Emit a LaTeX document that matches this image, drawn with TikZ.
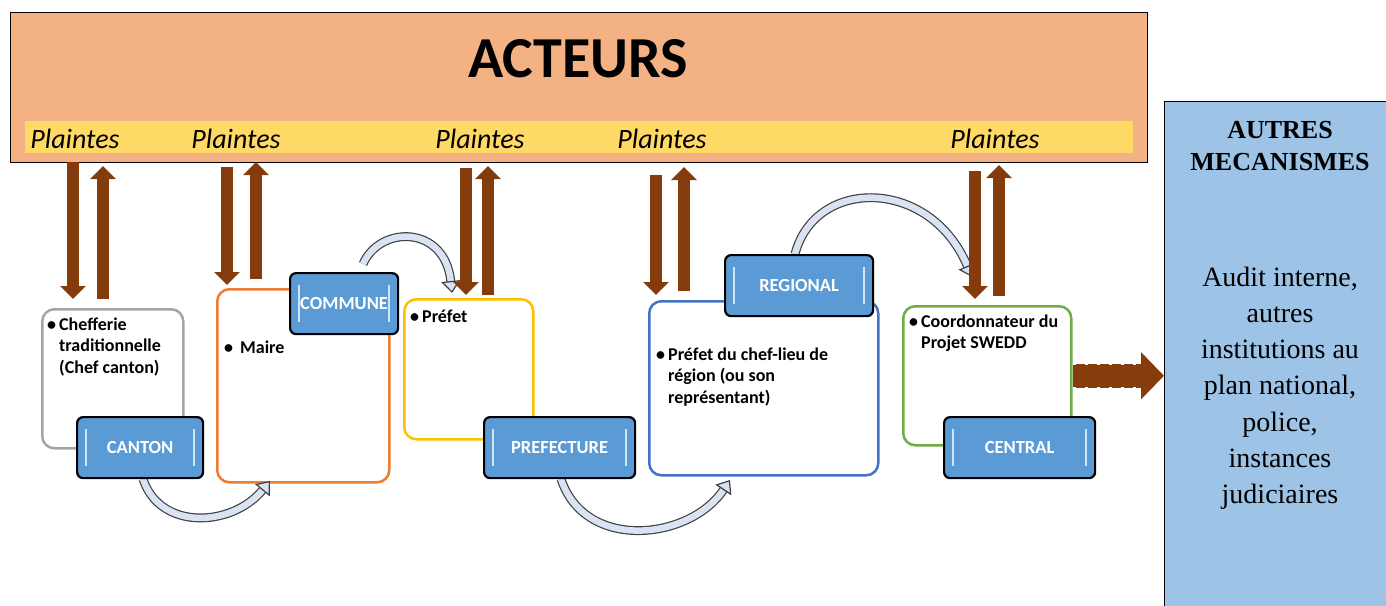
\documentclass[tikz,border=0pt]{standalone}
\usepackage{fontspec}
\setmainfont{Carlito}
\newfontfamily\tnr{Liberation Serif}
\usetikzlibrary{arrows.meta}
\definecolor{peach}{HTML}{F4B183}
\definecolor{bandy}{HTML}{FFD966}
\definecolor{autresblue}{HTML}{9DC3E6}
\definecolor{brn}{HTML}{843C0C}
\definecolor{tabblue}{HTML}{5B9BD5}
\definecolor{tabhl}{HTML}{CFE6F8}
\definecolor{arcfill}{HTML}{DAE3F3}
\definecolor{arcline}{HTML}{404040}
\definecolor{cgray}{HTML}{A5A5A5}
\definecolor{corange}{HTML}{ED7D31}
\definecolor{cyellow}{HTML}{FFC000}
\definecolor{cblue}{HTML}{4472C4}
\definecolor{cgreen}{HTML}{70AD47}
\newcommand\bul[1]{\leavevmode\llap{•\hspace{#1}}}
\begin{document}
\begin{tikzpicture}[x=1pt,y=-1pt,
  cbox/.style={rounded corners=12pt, line width=2.5pt, fill=white, inner sep=0pt, anchor=north west},
  tabbox/.style={rounded corners=6pt, line width=2.2pt, draw=black, fill=tabblue, inner sep=0pt, anchor=north west,
     text=white, font=\bfseries\fontsize{18.5}{20}\selectfont, minimum height=61pt,
     path picture={
       \draw[tabhl, line width=1.6pt] ([xshift=9pt,yshift=-12pt]path picture bounding box.north west) -- ([xshift=9pt,yshift=12pt]path picture bounding box.south west);
       \draw[tabhl, line width=1.6pt] ([xshift=-9pt,yshift=-12pt]path picture bounding box.north east) -- ([xshift=-9pt,yshift=12pt]path picture bounding box.south east);
     }},
  ctext/.style={inner sep=0pt, anchor=base west, font=\bfseries\fontsize{18}{21.5}\selectfont},
  plainte/.style={inner sep=0pt, anchor=base, font=\itshape\fontsize{28}{30}\selectfont},
  brarrow/.style={draw=brn, line width=12pt, -{Triangle[length=13pt,width=25pt]}},
  curv/.style={draw=arcline, line width=1.2pt, double=arcfill, double distance=6.5pt, -{Triangle[length=12pt,width=19pt,fill=arcfill]}}
]
\useasboundingbox (0,0) rectangle (1386,605);

% ACTEURS header
\node[draw=black, line width=1pt, fill=peach, minimum width=1137pt, minimum height=150pt, anchor=north west, inner sep=0pt] (acteurs) at (10,12) {};
\node[fill=bandy, minimum width=1108pt, minimum height=32pt, anchor=north west, inner sep=0pt] (band) at (25,121) {};
\node[inner sep=0pt, anchor=base, font=\bfseries\fontsize{58}{60}\selectfont] (title) at (578,77) {ACTEURS};
\node[plainte] (p1) at (75,148) {Plaintes};
\node[plainte] (p2) at (236,148) {Plaintes};
\node[plainte] (p3) at (480,148) {Plaintes};
\node[plainte] (p4) at (662,148) {Plaintes};
\node[plainte] (p5) at (995,148) {Plaintes};

% AUTRES MECANISMES
\node[draw=black, line width=1pt, fill=autresblue, anchor=north west, minimum width=260pt, minimum height=540pt, inner sep=0pt] (autres) at (1164,101) {};
\node[inner sep=0pt, anchor=base, font=\tnr\bfseries\fontsize{26}{32}\selectfont] (autitle) at (1280,138) {\parbox[t]{220pt}{\centering AUTRES\\MECANISMES}};
\node[inner sep=0pt, anchor=base, font=\tnr\fontsize{28}{36.3}\selectfont] (aubody) at (1280,286) {\parbox[t]{220pt}{\centering Audit interne,\\autres\\institutions au\\plan national,\\police,\\instances\\judiciaires}};

% content boxes
\node[cbox, draw=cgray, minimum width=141pt, minimum height=139pt] (cantonbox) at (41,308) {};
\node[cbox, draw=corange, minimum width=172pt, minimum height=193pt] (communebox) at (216,288) {};
\node[cbox, draw=cyellow, minimum width=129pt, minimum height=140pt] (prefetbox) at (403,298) {};
\node[cbox, draw=cblue, minimum width=229pt, minimum height=174pt] (regionbox) at (648,300) {};
\node[cbox, draw=cgreen, minimum width=168pt, minimum height=139pt] (centralbox) at (902,305) {};

% texts in boxes
\node[ctext] (t1) at (59,330) {\parbox[t]{130pt}{\raggedright\bul{3pt}Chefferie\\traditionnelle\\(Chef canton)}};
\node[ctext] (t2) at (240,353) {\bul{7pt}Maire};
\node[ctext] (t3) at (422,322) {\bul{3pt}Préfet};
\node[ctext] (t4) at (668,360) {\parbox[t]{200pt}{\raggedright\bul{3pt}Préfet du chef-lieu de\\région (ou son\\représentant)}};
\node[ctext] (t5) at (921,327) {\parbox[t]{160pt}{\raggedright\bul{3pt}Coordonnateur du\\Projet SWEDD}};

% curved transfer arrows
\coordinate (c1s) at (143,479);
\coordinate (c1e) at (270,481);
\coordinate (c2s) at (363,264);
\coordinate (c2e) at (452,293);
\coordinate (c3s) at (561,479);
\coordinate (c3e) at (730,480);
\coordinate (c4s) at (795,254);
\coordinate (c4e) at (972,277);
\draw[curv] (c1s) .. controls (160,531) and (232,527) .. (c1e);
\draw[curv] (c2s) .. controls (380,225) and (445,225) .. (c2e);
\draw[curv] (c3s) .. controls (585,552) and (690,540) .. (c3e);
\draw[curv] (c4s) .. controls (815,177) and (930,177) .. (c4e);

% tabs
\node[tabbox, minimum width=126pt] (canton) at (76,416) {CANTON};
\node[tabbox, minimum width=108pt] (commune) at (289,272) {COMMUNE};
\node[tabbox, minimum width=151pt] (prefecture) at (483,416) {PREFECTURE};
\node[tabbox, minimum width=148pt] (regional) at (724,254) {REGIONAL};
\node[tabbox, minimum width=151pt] (central) at (943,416) {CENTRAL};

% brown plaintes arrows
\coordinate (d1s) at (73,162);  \coordinate (d1e) at (73,299);
\coordinate (u1s) at (103,299); \coordinate (u1e) at (103,166);
\coordinate (d2s) at (227,167); \coordinate (d2e) at (227,285);
\coordinate (u2s) at (256,279); \coordinate (u2e) at (256,162);
\coordinate (d3s) at (466,168); \coordinate (d3e) at (466,295);
\coordinate (u3s) at (488,295); \coordinate (u3e) at (488,166);
\coordinate (d4s) at (656,175); \coordinate (d4e) at (656,295);
\coordinate (u4s) at (684,291); \coordinate (u4e) at (684,167);
\coordinate (d5s) at (975,171); \coordinate (d5e) at (975,299);
\coordinate (u5s) at (999,296); \coordinate (u5e) at (999,165);
\foreach \i in {1,...,5}{
  \draw[brarrow] (d\i s) -- (d\i e);
  \draw[brarrow] (u\i s) -- (u\i e);
}

% dashed arrow to autres
\draw[draw=brn, line width=24pt, -{Triangle[length=23pt,width=46pt]}] (centralbox.east) -- (centralbox.east -| autres.west);
\draw[white, line width=1.3pt, dash pattern=on 3pt off 9pt] ([yshift=11.6pt]centralbox.east) -- ++(72,0);
\draw[white, line width=1.3pt, dash pattern=on 3pt off 9pt] ([yshift=-11.6pt]centralbox.east) -- ++(72,0);
\end{tikzpicture}
\end{document}
